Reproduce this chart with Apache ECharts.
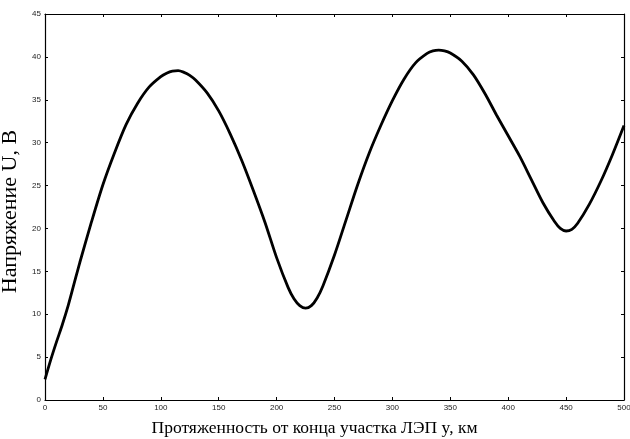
<!DOCTYPE html>
<html><head><meta charset="utf-8">
<script src="https://cdn.jsdelivr.net/npm/echarts@6/dist/echarts.min.js"></script>
<style>html,body{margin:0;padding:0;background:#fff}#c{width:630px;height:439px}</style>
</head><body><div id="c"></div>
<script>
const distanceKm = [0,5,10,15,20,25,30,40,50,60,70,80,90,100,105,110,115,120,125,130,140,150,160,170,180,190,200,210,215,220,225,230,235,240,250,260,270,280,290,300,310,320,330,335,340,345,350,360,370,380,390,400,410,420,430,440,445,450,455,460,470,480,490,500];
const voltageV  = [2.4,4.7,6.8,8.8,11.0,13.5,16.0,20.7,25.1,28.8,32.1,34.6,36.5,37.7,38.1,38.35,38.4,38.2,37.85,37.3,35.8,33.7,31.0,27.9,24.4,20.7,16.6,13.1,11.8,11.0,10.7,11.0,11.9,13.3,16.9,21.0,25.1,28.8,32.0,34.9,37.4,39.3,40.4,40.7,40.8,40.7,40.45,39.5,37.9,35.7,33.2,30.8,28.4,25.7,23.0,20.8,20.0,19.7,19.9,20.6,22.8,25.5,28.6,32.0];
const xTicks = {min:0, max:500, step:50};
const yTicks = {min:0, max:45, step:5};
const xTitle = 'Протяженность от конца участка ЛЭП y, км';
const yTitle = 'Напряжение U, В';

const chart = echarts.init(document.getElementById('c'), null, {renderer:'canvas'});
const lbl = {fontFamily:'Liberation Sans, Arial, sans-serif', fontSize:8, color:'#222'};
const axLine = {show:true, onZero:false, lineStyle:{color:'#000', width:1.2}};
const tick = {show:true, inside:true, length:3, lineStyle:{color:'#000'}};
chart.setOption({
  animation:false,
  backgroundColor:'#fff',
  grid:{left:45, right:6, top:14, bottom:39, containLabel:false, outerBoundsMode:'none'},
  xAxis:[
    {type:'value', min:xTicks.min, max:xTicks.max, interval:xTicks.step, position:'bottom',
     axisLine:axLine, axisTick:tick, splitLine:{show:false},
     axisLabel:Object.assign({margin:4}, lbl),
     name:xTitle, nameLocation:'middle', nameGap:19,
     nameTextStyle:{fontFamily:'Liberation Serif, Times New Roman, serif', fontSize:17.5, color:'#000', padding:[0,40,0,0]}},
    {type:'value', min:xTicks.min, max:xTicks.max, interval:xTicks.step, position:'top',
     axisLine:axLine, axisTick:tick, splitLine:{show:false}, axisLabel:{show:false}}
  ],
  yAxis:[
    {type:'value', min:yTicks.min, max:yTicks.max, interval:yTicks.step, position:'left',
     axisLine:axLine, axisTick:tick, splitLine:{show:false},
     axisLabel:Object.assign({margin:4}, lbl),
     name:yTitle, nameLocation:'middle', nameGap:4,
     nameTextStyle:{fontFamily:'Liberation Serif, Times New Roman, serif', fontSize:22, color:'#000', padding:[7,9,0,0]}},
    {type:'value', min:yTicks.min, max:yTicks.max, interval:yTicks.step, position:'right',
     axisLine:axLine, axisTick:tick, splitLine:{show:false}, axisLabel:{show:false}}
  ],
  series:[{
    type:'line', xAxisIndex:0, yAxisIndex:0, smooth:0.3, showSymbol:false,
    lineStyle:{color:'#000', width:2.8},
    data: distanceKm.map((x,i)=>[x, voltageV[i]])
  }]
});
</script></body></html>
